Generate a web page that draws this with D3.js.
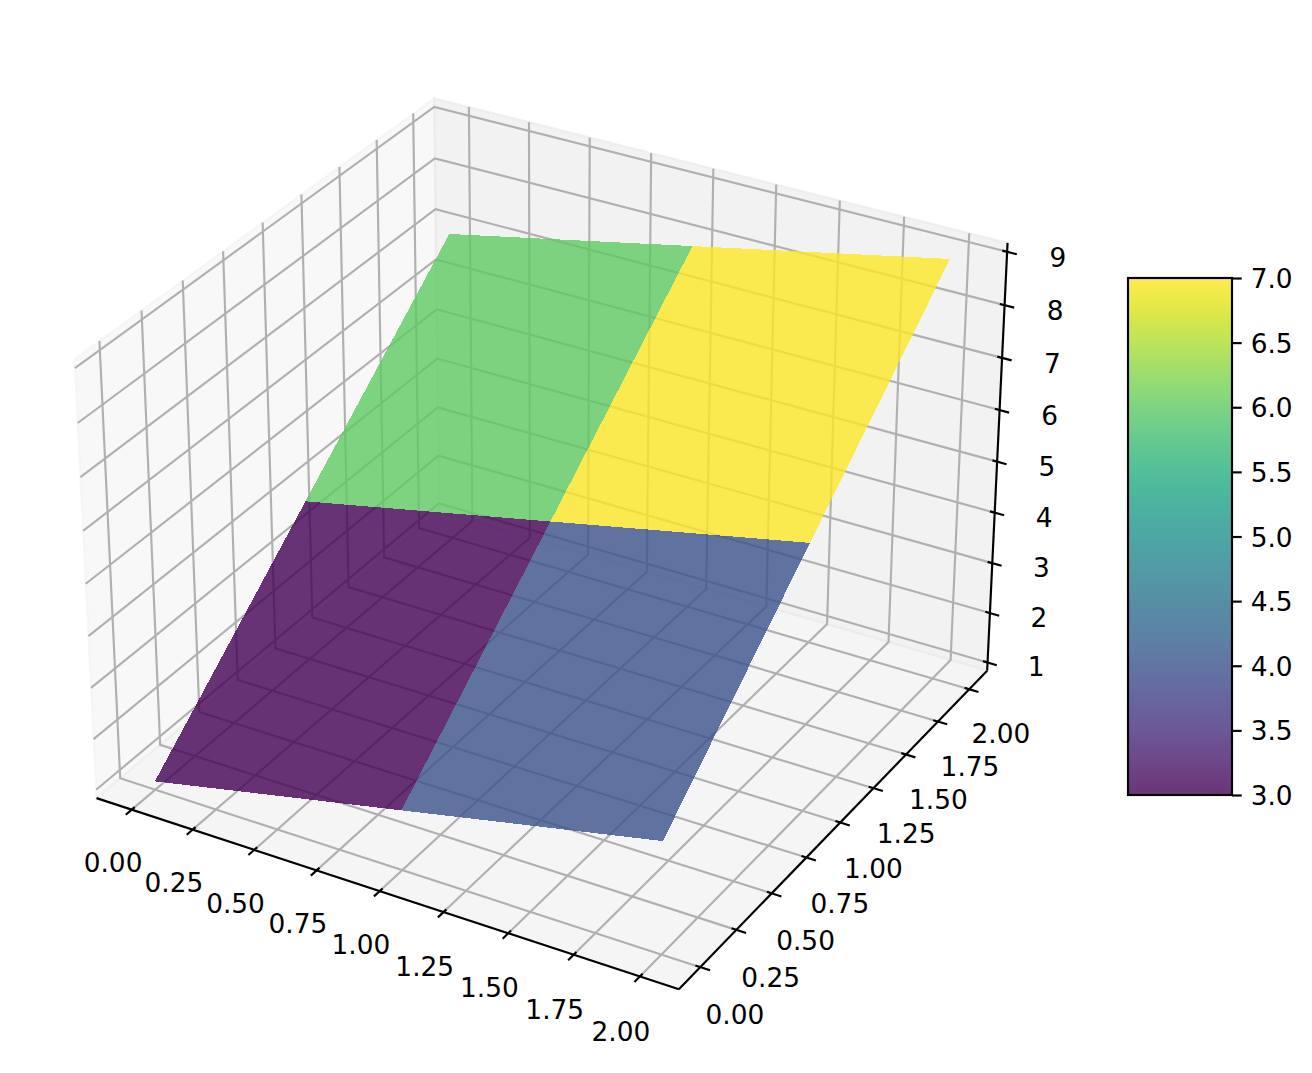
<!DOCTYPE html>
<html><head><meta charset="utf-8">
<script src="https://cdn.jsdelivr.net/npm/d3@7"></script>
<style>html,body{margin:0;padding:0;background:#fff}svg{display:block}text{font-family:"DejaVu Sans";font-size:26.4px;fill:#000}</style>
</head><body><div id="c"></div>
<script>
// ---- data ----
const xValues = [0, 1, 2];
const yValues = [0, 1, 2];
const zRow0 = [1, 2, 3];
const zRow1 = [4, 5, 6];
const zRow2 = [7, 8, 9];
const zRows = [zRow0, zRow1, zRow2];
const xTicks = [0, 0.25, 0.5, 0.75, 1, 1.25, 1.5, 1.75, 2];
const yTicks = [0, 0.25, 0.5, 0.75, 1, 1.25, 1.5, 1.75, 2];
const zTicks = [1, 2, 3, 4, 5, 6, 7, 8, 9];
const cbarTicks = [3, 3.5, 4, 4.5, 5, 5.5, 6, 6.5, 7];
const xLim = [-0.1, 2.1], yLim = [-0.1, 2.1], zLim = [1, 9];

// ---- layout ----
const W = 1312, H = 1073;
const boxA = 1.19048, boxC = 0.89286, dist = 10;
const elev = 30 * Math.PI / 180, azim = -60 * Math.PI / 180;
const px = d3.scaleLinear().domain([0, 1]).range([550.4, 550.4 + 5378]);
const py = d3.scaleLinear().domain([0, 1]).range([521.5, 521.5 - 5378]);
const wx = d3.scaleLinear().domain(xLim).range([0, boxA]);
const wy = d3.scaleLinear().domain(yLim).range([0, boxA]);
const wz = d3.scaleLinear().domain(zLim).range([0, boxC]);
const w = [Math.cos(elev)*Math.cos(azim), Math.cos(elev)*Math.sin(azim), Math.sin(elev)];
const un = Math.hypot(w[0], w[1]);
const u = [-w[1]/un, w[0]/un, 0];
const v = [w[1]*u[2]-w[2]*u[1], w[2]*u[0]-w[0]*u[2], w[0]*u[1]-w[1]*u[0]];
const dot = (a,b) => a[0]*b[0]+a[1]*b[1]+a[2]*b[2];
function P(x, y, z) {
  const d = [wx(x)-boxA/2, wy(y)-boxA/2, wz(z)-boxC/2];
  const den = dist - dot(w, d);
  return [px(dot(u, d)/den), py(dot(v, d)/den)];
}
const dX = (xLim[1]-xLim[0])/12, dY = (yLim[1]-yLim[0])/12, dZ = (zLim[1]-zLim[0])/12;
const x0 = xLim[0]-dX/4, x1 = xLim[1]+dX/4;
const y0 = yLim[0]-dY/4, y1 = yLim[1]+dY/4;
const z0 = zLim[0]-dZ/4, z1 = zLim[1]+dZ/4;
const tickOut = 0.2, tickIn = 0.1, kX = 0.68, kY = 0.72, kZ = 1.05, kZLabel = 0.35;

const svg = d3.select('#c').append('svg').attr('width', W).attr('height', H).attr('viewBox', `0 0 ${W} ${H}`);
const line = d3.line();
const lw = 2.15;

// panes
const panes = [
  {c:'rgba(242,242,242,0.5)', p:[[x0,y0,z0],[x0,y1,z0],[x0,y1,z1],[x0,y0,z1]]},
  {c:'rgba(230,230,230,0.5)', p:[[x0,y1,z0],[x1,y1,z0],[x1,y1,z1],[x0,y1,z1]]},
  {c:'rgba(236,236,236,0.5)', p:[[x0,y0,z0],[x1,y0,z0],[x1,y1,z0],[x0,y1,z0]]}
];
svg.append('g').selectAll('path').data(panes).join('path')
  .attr('d', d => line(d.p.map(q => P(...q))) + 'Z')
  .attr('fill', d => d.c).attr('stroke', d => d.c).attr('stroke-width', lw);

// grid
const grid = svg.append('g').attr('fill','none').attr('stroke','#b0b0b0').attr('stroke-width',lw).attr('stroke-linejoin','miter');
const gridLines = [
  ...xTicks.map(t => [[t,y0,z0],[t,y1,z0],[t,y1,z1]]),
  ...yTicks.map(t => [[x1,t,z0],[x0,t,z0],[x0,t,z1]]),
  ...zTicks.map(t => [[x1,y1,t],[x0,y1,t],[x0,y0,t]])
];
grid.selectAll('path').data(gridLines).join('path').attr('d', d => line(d.map(q => P(...q))));

// axes lines
const axesG = svg.append('g').attr('fill','none').attr('stroke','#000').attr('stroke-width',lw);
axesG.append('path').attr('d', line([P(x0,y0,z0),P(x1,y0,z0)]));
axesG.append('path').attr('d', line([P(x1,y0,z0),P(x1,y1,z0)]));
axesG.append('path').attr('d', line([P(x1,y1,z0),P(x1,y1,z1)]));

// ticks + labels
const fmt2 = d3.format('.2f');
function label(q, s) {
  svg.append('text').attr('x',q[0]).attr('y',q[1]).attr('text-anchor','middle').attr('dominant-baseline','central').text(s);
}
xTicks.forEach(t => {
  axesG.append('path').attr('d', line([P(t,y0+tickIn*dY,z0),P(t,y0-tickOut*dY,z0)]));
  label(P(t, y0-kX*dY, z0-kZ*dZ), fmt2(t));
});
yTicks.forEach(t => {
  axesG.append('path').attr('d', line([P(x1-tickIn*dX,t,z0),P(x1+tickOut*dX,t,z0)]));
  label(P(x1+kY*dX, t, z0-kZ*dZ), fmt2(t));
});
zTicks.forEach(t => {
  axesG.append('path').attr('d', line([P(x1-tickIn*dX,y1,t),P(x1+tickOut*dX,y1,t)]));
  label(P(x1+kY*dX, y1+kY*dY, t-kZLabel*dZ), t);
});

// surface
const cells = [];
for (let j = 0; j < yValues.length-1; j++) for (let i = 0; i < xValues.length-1; i++) {
  const corners = [[i,j],[i+1,j],[i+1,j+1],[i,j+1]];
  cells.push({
    pts: corners.map(([a,b]) => [xValues[a], yValues[b], zRows[b][a]]),
    val: d3.mean(corners, ([a,b]) => zRows[b][a])
  });
}
const cmap = d3.scaleSequential(d3.interpolateViridis).domain(d3.extent(cells, d => d.val));
svg.append('g').selectAll('path').data(cells).join('path')
  .attr('d', d => line(d.pts.map(q => P(...q))) + 'Z')
  .attr('fill', d => cmap(d.val)).attr('fill-opacity', 0.8).attr('shape-rendering','crispEdges');

// colorbar
const cbX = 1128, cbW = 104;
const cbY = d3.scaleLinear().domain(d3.extent(cbarTicks)).range([795, 278]);
const grad = svg.append('defs').append('linearGradient').attr('id','vir')
  .attr('x1',0).attr('y1',1).attr('x2',0).attr('y2',0);
grad.selectAll('stop').data(d3.range(0,1.0001,1/32)).join('stop')
  .attr('offset', d => d).attr('stop-color', d => d3.interpolateViridis(d)).attr('stop-opacity', 0.8);
const cb = svg.append('g');
cb.append('rect').attr('x',cbX).attr('y',cbY(7)).attr('width',cbW).attr('height',cbY(3)-cbY(7))
  .attr('fill','url(#vir)').attr('stroke','#000').attr('stroke-width',lw);
const cbAxis = d3.axisRight(cbY).tickValues(cbarTicks).tickFormat(d3.format('.1f')).tickSize(9.7).tickPadding(9);
const cbG = svg.append('g').attr('transform',`translate(${cbX+cbW},0)`).call(cbAxis);
cbG.select('.domain').remove();
cbG.selectAll('.tick line').attr('stroke','#000').attr('stroke-width',lw);
cbG.attr('font-family',null).attr('font-size',null);
cbG.selectAll('text').attr('fill','#000').attr('dy',null).attr('dominant-baseline','central');
</script></body></html>
